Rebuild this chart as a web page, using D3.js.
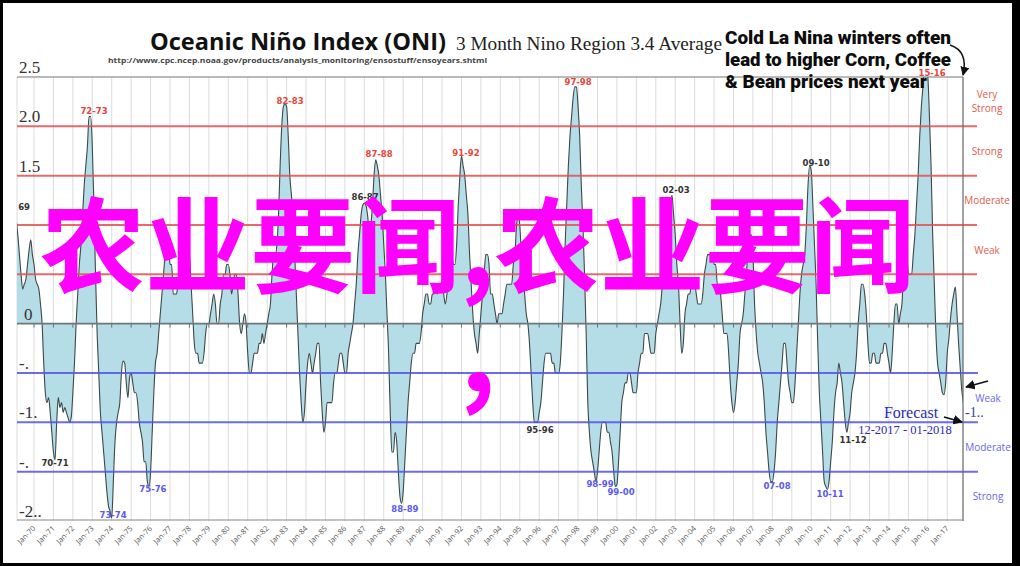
<!DOCTYPE html>
<html><head><meta charset="utf-8">
<script src="https://cdn.jsdelivr.net/npm/d3@7"></script>
<style>html,body{margin:0;padding:0;background:#fff;overflow:hidden}svg{display:block}</style>
</head><body>
<svg id="chart" width="1020" height="566"></svg>
<script>
// ---------- DATA ----------
const firstYear = 1969;
const seasonCenters = ["DJF","JFM","FMA","MAM","AMJ","MJJ","JJA","JAS","ASO","SON","OND","NDJ"];
const oniByYear = [
  [1.1,1.05,0.9,0.7,0.5,0.35,0.4,0.45,0.6,0.75,0.85,0.7],      // 1969
  [0.6,0.45,0.4,0.35,0.2,0.0,-0.4,-0.7,-0.8,-0.75,-0.9,-1.1],  // 1970
  [-1.3,-1.38,-1.0,-0.75,-0.85,-0.8,-0.9,-0.85,-0.9,-0.95,-1.0,-0.95], // 1971
  [-0.7,-0.4,0.0,0.3,0.6,0.8,1.1,1.4,1.6,1.8,2.1,2.1],         // 1972
  [1.8,1.2,0.5,-0.1,-0.5,-0.9,-1.1,-1.3,-1.5,-1.7,-1.85,-1.9], // 1973
  [-1.97,-1.6,-1.2,-1.0,-0.9,-0.8,-0.5,-0.38,-0.4,-0.6,-0.75,-0.55], // 1974
  [-0.5,-0.6,-0.7,-0.7,-0.8,-1.0,-1.1,-1.2,-1.4,-1.4,-1.6,-1.65], // 1975
  [-1.5,-1.1,-0.7,-0.4,-0.3,-0.1,0.1,0.3,0.5,0.7,0.8,0.8],     // 1976
  [0.6,0.6,0.3,0.3,0.3,0.4,0.4,0.4,0.5,0.7,0.8,0.8],           // 1977
  [0.7,0.4,0.1,-0.2,-0.3,-0.3,-0.4,-0.4,-0.4,-0.3,-0.1,0.0],   // 1978
  [0.0,0.1,0.2,0.3,0.2,0.0,0.0,0.2,0.3,0.5,0.5,0.6],           // 1979
  [0.6,0.5,0.3,0.4,0.5,0.5,0.3,0.0,-0.1,0.0,0.1,0.0],          // 1980
  [-0.3,-0.5,-0.5,-0.4,-0.3,-0.3,-0.3,-0.2,-0.2,-0.1,-0.2,-0.1], // 1981
  [0.0,0.1,0.2,0.5,0.7,0.7,0.8,1.1,1.6,2.0,2.2,2.23],          // 1982
  [2.2,1.9,1.5,1.3,1.1,0.7,0.3,-0.1,-0.5,-0.8,-1.0,-0.9],      // 1983
  [-0.6,-0.4,-0.3,-0.4,-0.5,-0.4,-0.3,-0.2,-0.2,-0.6,-0.9,-1.1], // 1984
  [-1.0,-0.8,-0.8,-0.8,-0.8,-0.6,-0.5,-0.5,-0.4,-0.3,-0.3,-0.4], // 1985
  [-0.5,-0.5,-0.3,-0.2,-0.1,0.0,0.2,0.4,0.7,0.9,1.1,1.2],      // 1986
  [1.22,1.2,1.1,0.95,1.0,1.2,1.5,1.66,1.6,1.5,1.3,1.1],        // 1987
  [0.8,0.5,0.1,-0.3,-0.9,-1.3,-1.3,-1.1,-1.2,-1.5,-1.75,-1.82], // 1988
  [-1.7,-1.4,-1.1,-0.8,-0.6,-0.4,-0.3,-0.3,-0.2,-0.2,-0.2,-0.1], // 1989
  [0.1,0.2,0.3,0.3,0.2,0.2,0.3,0.3,0.4,0.3,0.4,0.4],           // 1990
  [0.4,0.3,0.2,0.3,0.5,0.6,0.7,0.6,0.6,0.8,1.2,1.5],           // 1991
  [1.7,1.6,1.5,1.3,1.1,0.7,0.4,0.1,-0.1,-0.2,-0.3,-0.1],       // 1992
  [0.1,0.3,0.5,0.7,0.7,0.6,0.3,0.3,0.2,0.1,0.0,0.1],           // 1993
  [0.1,0.1,0.2,0.3,0.4,0.4,0.4,0.4,0.6,0.7,1.0,1.1],           // 1994
  [1.0,0.7,0.5,0.3,0.1,0.0,-0.2,-0.5,-0.8,-1.0,-1.0,-1.0],     // 1995
  [-0.9,-0.8,-0.6,-0.4,-0.3,-0.3,-0.3,-0.3,-0.4,-0.4,-0.5,-0.5], // 1996
  [-0.5,-0.4,-0.1,0.3,0.8,1.2,1.6,1.9,2.1,2.3,2.4,2.4],        // 1997
  [2.2,1.9,1.4,1.0,0.5,-0.1,-0.8,-1.1,-1.3,-1.4,-1.5,-1.6],    // 1998
  [-1.5,-1.3,-1.1,-1.0,-1.0,-1.0,-1.1,-1.1,-1.2,-1.3,-1.5,-1.65], // 1999
  [-1.63,-1.4,-1.1,-0.8,-0.7,-0.6,-0.6,-0.5,-0.5,-0.6,-0.7,-0.7], // 2000
  [-0.7,-0.5,-0.4,-0.3,-0.3,-0.1,-0.1,-0.1,-0.2,-0.3,-0.3,-0.3], // 2001
  [-0.1,0.0,0.1,0.2,0.4,0.7,0.8,0.9,1.0,1.2,1.3,1.1],          // 2002
  [0.9,0.6,0.4,0.0,-0.3,-0.2,0.1,0.2,0.3,0.3,0.4,0.4],         // 2003
  [0.4,0.3,0.2,0.2,0.2,0.3,0.5,0.6,0.7,0.7,0.7,0.7],           // 2004
  [0.6,0.6,0.4,0.4,0.3,0.1,-0.1,-0.1,-0.1,-0.3,-0.6,-0.8],     // 2005
  [-0.9,-0.8,-0.6,-0.4,-0.1,0.0,0.1,0.3,0.5,0.8,0.9,0.9],      // 2006
  [0.7,0.2,-0.1,-0.3,-0.4,-0.5,-0.6,-0.8,-1.1,-1.3,-1.5,-1.6], // 2007
  [-1.6,-1.5,-1.3,-1.0,-0.8,-0.6,-0.4,-0.2,-0.2,-0.4,-0.6,-0.7], // 2008
  [-0.8,-0.8,-0.6,-0.3,0.0,0.3,0.5,0.6,0.7,1.0,1.4,1.6],       // 2009
  [1.55,1.2,0.8,0.4,-0.2,-0.7,-1.0,-1.3,-1.6,-1.65,-1.68,-1.6], // 2010
  [-1.4,-1.2,-0.9,-0.7,-0.6,-0.4,-0.5,-0.6,-0.8,-1.0,-1.1,-1.0], // 2011
  [-0.9,-0.7,-0.6,-0.5,-0.3,0.0,0.2,0.4,0.4,0.3,0.1,-0.2],     // 2012
  [-0.4,-0.4,-0.3,-0.3,-0.4,-0.4,-0.4,-0.3,-0.3,-0.2,-0.2,-0.3], // 2013
  [-0.4,-0.5,-0.3,0.0,0.2,0.2,0.0,0.1,0.2,0.5,0.6,0.7],        // 2014
  [0.5,0.5,0.5,0.7,0.9,1.2,1.5,1.9,2.2,2.4,2.6,2.6],           // 2015
  [2.5,2.1,1.6,0.9,0.4,-0.1,-0.4,-0.5,-0.6,-0.7,-0.72,-0.6],   // 2016
  [-0.3,-0.15,0.05,0.2,0.3,0.37,0.1,-0.2,-0.45,-0.68,-0.8]     // 2017 (last values = forecast)
];
const xTickYears = d3.range(1970, 2018);
const yTickValues = [2.5, 2.0, 1.5, 0, -0.5, -1.0, -1.5, -2.0];
const yTickLabels = ["2.5", "2.0", "1.5", "0", "-.", "-1.", "-.", "-2.."];
const elNinoLevels = [2.0, 1.5, 1.0, 0.5];
const laNinaLevels = [-0.5, -1.0, -1.5];
const elNinoBands = [["Very","Strong"], ["Strong"], ["Moderate"], ["Weak"]];
const elNinoBandMids = [2.25, 1.75, 1.25, 0.75];
const laNinaBands = ["Weak", "Moderate", "Strong"];
const laNinaBandMids = [-0.75, -1.25, -1.75];
const eventNames = ["72-73","82-83","87-88","91-92","97-98","15-16","86-87","02-03","09-10","69","70-71","95-96","11-12","73-74","75-76","88-89","98-99","99-00","07-08","10-11"];
const eventYears = [1973.09,1983.18,1987.76,1992.23,1998.0,2016.22,1987.04,2003.04,2010.25,1969.49,1971.08,1996.04,2012.15,1974.07,1976.12,1989.09,1999.13,2000.21,2008.24,2010.97];
const eventValues = [2.12,2.23,1.69,1.70,2.42,2.51,1.25,1.32,1.60,1.15,-1.44,-1.11,-1.21,-1.97,-1.71,-1.91,-1.66,-1.74,-1.68,-1.76];
const eventKinds = ["strong","strong","strong","strong","strong","strong","weak","weak","weak","weak","weak","weak","weak","nina","nina","nina","nina","nina","nina","nina"];
const titleMain = "Oceanic Niño Index (ONI)";
const titleSub = "3 Month Nino Region 3.4 Average";
const sourceUrl = "http://www.cpc.ncep.noaa.gov/products/analysis_monitoring/ensostuff/ensoyears.shtml";
const noteLines = ["Cold La Nina winters often", "lead to higher Corn, Coffee", "& Bean prices next year"];
const forecastLines = ["Forecast", "12-2017 - 01-2018"];
const forecastValueLabel = "-1..";
const watermarkLines = ["农业要闻,农业要闻", ","];

// ---------- BUILD ----------
const series = [];
oniByYear.forEach((row, i) => row.forEach((v, m) => series.push({t: firstYear + i + m / 12, v})));

const W = 1020, H = 566;
const plot = {l: 17, r: 963, t: 77, b: 521};
const svg = d3.select("#chart");
const x = d3.scaleLinear().domain([1969.125, 2017.81]).range([plot.l, plot.r]);
const y = d3.scaleLinear().domain([-2.0, 2.5]).range([plot.b, plot.t]);

svg.append("rect").attr("width", W).attr("height", H).attr("fill", "#fff");

svg.append("defs").append("clipPath").attr("id", "clip")
  .append("rect").attr("x", plot.l).attr("y", plot.t).attr("width", plot.r - plot.l).attr("height", plot.b - plot.t);
const defs = svg.select("defs");
defs.append("marker").attr("id", "arr").attr("viewBox", "0 0 10 10").attr("refX", 9).attr("refY", 5)
  .attr("markerWidth", 6).attr("markerHeight", 6).attr("orient", "auto-start-reverse")
  .append("path").attr("d", "M0,0L10,5L0,10z").attr("fill", "#111");

// vertical grid
svg.append("g").selectAll("line").data(xTickYears).join("line")
  .attr("x1", d => x(d)).attr("x2", d => x(d)).attr("y1", plot.t).attr("y2", plot.b)
  .attr("stroke", "#dcdcdc").attr("stroke-width", 1);
svg.append("line").attr("x1", plot.l).attr("x2", plot.l).attr("y1", plot.t).attr("y2", plot.b).attr("stroke", "#dcdcdc");

// area + line
const g = svg.append("g").attr("clip-path", "url(#clip)");
g.append("path").datum(series)
  .attr("d", d3.area().x(d => x(d.t)).y0(y(0)).y1(d => y(d.v)).curve(d3.curveMonotoneX))
  .attr("fill", "#b4dde7");
g.append("path").datum(series)
  .attr("d", d3.line().x(d => x(d.t)).y(d => y(d.v)).curve(d3.curveMonotoneX))
  .attr("fill", "none").attr("stroke", "#3d4848").attr("stroke-width", 1.1);

// zero axis with ticks
svg.append("line").attr("x1", plot.l).attr("x2", plot.r).attr("y1", y(0)).attr("y2", y(0))
  .attr("stroke", "#6e7777").attr("stroke-width", 1.6);
svg.append("g").selectAll("line").data(xTickYears).join("line")
  .attr("x1", d => x(d)).attr("x2", d => x(d)).attr("y1", y(0)).attr("y2", y(0) + 4)
  .attr("stroke", "#6e7777").attr("stroke-width", 1);

// threshold lines
svg.append("g").selectAll("line").data(elNinoLevels).join("line")
  .attr("x1", plot.l).attr("x2", 977).attr("y1", d => y(d)).attr("y2", d => y(d))
  .attr("stroke", "#e25050").attr("stroke-opacity", 0.85).attr("stroke-width", 2);
svg.append("g").selectAll("line").data(laNinaLevels).join("line")
  .attr("x1", plot.l).attr("x2", 978).attr("y1", d => y(d)).attr("y2", d => y(d))
  .attr("stroke", "#5252e8").attr("stroke-opacity", 0.85).attr("stroke-width", 2);

// borders
svg.append("line").attr("x1", plot.l).attr("x2", plot.r).attr("y1", plot.t).attr("y2", plot.t).attr("stroke", "#777").attr("stroke-width", 1.2);
svg.append("line").attr("x1", plot.r).attr("x2", plot.r).attr("y1", plot.t).attr("y2", plot.b).attr("stroke", "#666").attr("stroke-width", 1.2);
svg.append("line").attr("x1", plot.l).attr("x2", plot.r).attr("y1", plot.b - 1).attr("y2", plot.b - 1).attr("stroke", "#888").attr("stroke-width", 1.2);

// x tick labels
svg.append("g").selectAll("text").data(xTickYears).join("text")
  .attr("transform", d => `translate(${x(d) + 2},${plot.b + 8}) rotate(-45)`)
  .attr("text-anchor", "end").attr("font-family", "Open Sans").attr("font-size", 7.5).attr("fill", "#555")
  .text(d => "Jan-" + String(d).slice(2));

// y tick labels
svg.append("g").selectAll("text").data(yTickValues).join("text")
  .attr("x", d => d === 0 ? 24 : 19).attr("y", d => y(d) - 4)
  .attr("font-family", "Liberation Serif").attr("font-size", 17).attr("fill", "#333")
  .text((d, i) => yTickLabels[i]);

// band labels on the right
elNinoBands.forEach((lines, i) => {
  const t = svg.append("text").attr("x", 987).attr("y", y(elNinoBandMids[i]) + (lines.length > 1 ? -4 : 4))
    .attr("text-anchor", "middle").attr("font-family", "Open Sans").attr("font-size", 10).attr("fill", "#e35b4c");
  lines.forEach((s, k) => t.append("tspan").attr("x", 987).attr("dy", k ? 14 : 0).text(s));
});
svg.append("g").selectAll("text").data(laNinaBands).join("text")
  .attr("x", 988).attr("y", (d, i) => y(laNinaBandMids[i]) + 4)
  .attr("text-anchor", "middle").attr("font-family", "Open Sans").attr("font-size", 10).attr("fill", "#6868e6")
  .text(d => d);

// event labels
const kindColor = {strong: "#e8453a", weak: "#333", nina: "#5a5aee"};
svg.append("g").selectAll("text").data(eventNames).join("text")
  .attr("x", (d, i) => x(eventYears[i])).attr("y", (d, i) => y(eventValues[i]))
  .attr("text-anchor", "middle").attr("font-family", "DejaVu Sans").attr("font-weight", "bold")
  .attr("font-size", 8.5).attr("fill", (d, i) => kindColor[eventKinds[i]])
  .text(d => d);

// titles
svg.append("text").attr("x", 150).attr("y", 50).attr("font-family", "Open Sans").attr("font-weight", "bold")
  .attr("font-size", 23.5).attr("fill", "#111").attr("textLength", 296).attr("lengthAdjust", "spacingAndGlyphs").text(titleMain);
svg.append("text").attr("x", 456).attr("y", 50).attr("font-family", "Liberation Serif")
  .attr("font-size", 19.3).attr("fill", "#222").attr("textLength", 266).attr("lengthAdjust", "spacingAndGlyphs").text(titleSub);
svg.append("text").attr("x", 108).attr("y", 63).attr("font-family", "Open Sans").attr("font-weight", "bold")
  .attr("font-size", 6.6).attr("fill", "#444").attr("textLength", 379).attr("lengthAdjust", "spacingAndGlyphs").text(sourceUrl);

// note annotation
const noteWidths = [226, 226, 202];
noteLines.forEach((s, i) => svg.append("text").attr("x", 725).attr("y", 44 + i * 22)
  .attr("font-family", "Roboto").attr("font-weight", 900).attr("font-size", 17.5).attr("fill", "#0d0d0d")
  .attr("textLength", noteWidths[i]).attr("lengthAdjust", "spacingAndGlyphs").text(s));
svg.append("path").attr("d", "M950,45 C962,49 967,58 963,75").attr("fill", "none")
  .attr("stroke", "#111").attr("stroke-width", 1.5).attr("marker-end", "url(#arr)");

// forecast annotation
svg.append("text").attr("x", 911).attr("y", 418).attr("text-anchor", "middle").attr("font-family", "Liberation Serif")
  .attr("font-size", 16).attr("fill", "#2b2bbb").text(forecastLines[0]);
svg.append("text").attr("x", 905).attr("y", 434).attr("text-anchor", "middle").attr("font-family", "Liberation Serif")
  .attr("font-size", 12.5).attr("fill", "#2b2bbb").text(forecastLines[1]);
svg.append("text").attr("x", 965).attr("y", 417).attr("font-family", "Liberation Serif")
  .attr("font-size", 14).attr("fill", "#3a3aa8").text(forecastValueLabel);
svg.append("line").attr("x1", 944).attr("y1", 417).attr("x2", 962).attr("y2", 422)
  .attr("stroke", "#111").attr("stroke-width", 1.6).attr("marker-end", "url(#arr)");
svg.append("line").attr("x1", 988).attr("y1", 381).attr("x2", 966).attr("y2", 387)
  .attr("stroke", "#111").attr("stroke-width", 1.6).attr("marker-end", "url(#arr)");

// watermark
svg.append("text").attr("x", 40).attr("y", 285).attr("font-family", "Noto Sans CJK SC").attr("font-weight", "bold")
  .attr("font-size", 104).attr("fill", "#ff00ff").attr("textLength", 875).attr("lengthAdjust", "spacingAndGlyphs")
  .text(watermarkLines[0]);
svg.append("text").attr("x", 478).attr("y", 392).attr("text-anchor", "middle").attr("font-family", "Noto Sans CJK SC").attr("font-weight", "bold")
  .attr("font-size", 110).attr("fill", "#ff00ff").text(watermarkLines[1]);

// outer black frame
svg.append("rect").attr("x", 1.5).attr("y", 1.5).attr("width", W - 5).attr("height", H - 3)
  .attr("fill", "none").attr("stroke", "#000").attr("stroke-width", 3);
svg.append("line").attr("x1", 1016).attr("x2", 1016).attr("y1", 0).attr("y2", H).attr("stroke", "#000").attr("stroke-width", 8);
</script>
</body></html>
